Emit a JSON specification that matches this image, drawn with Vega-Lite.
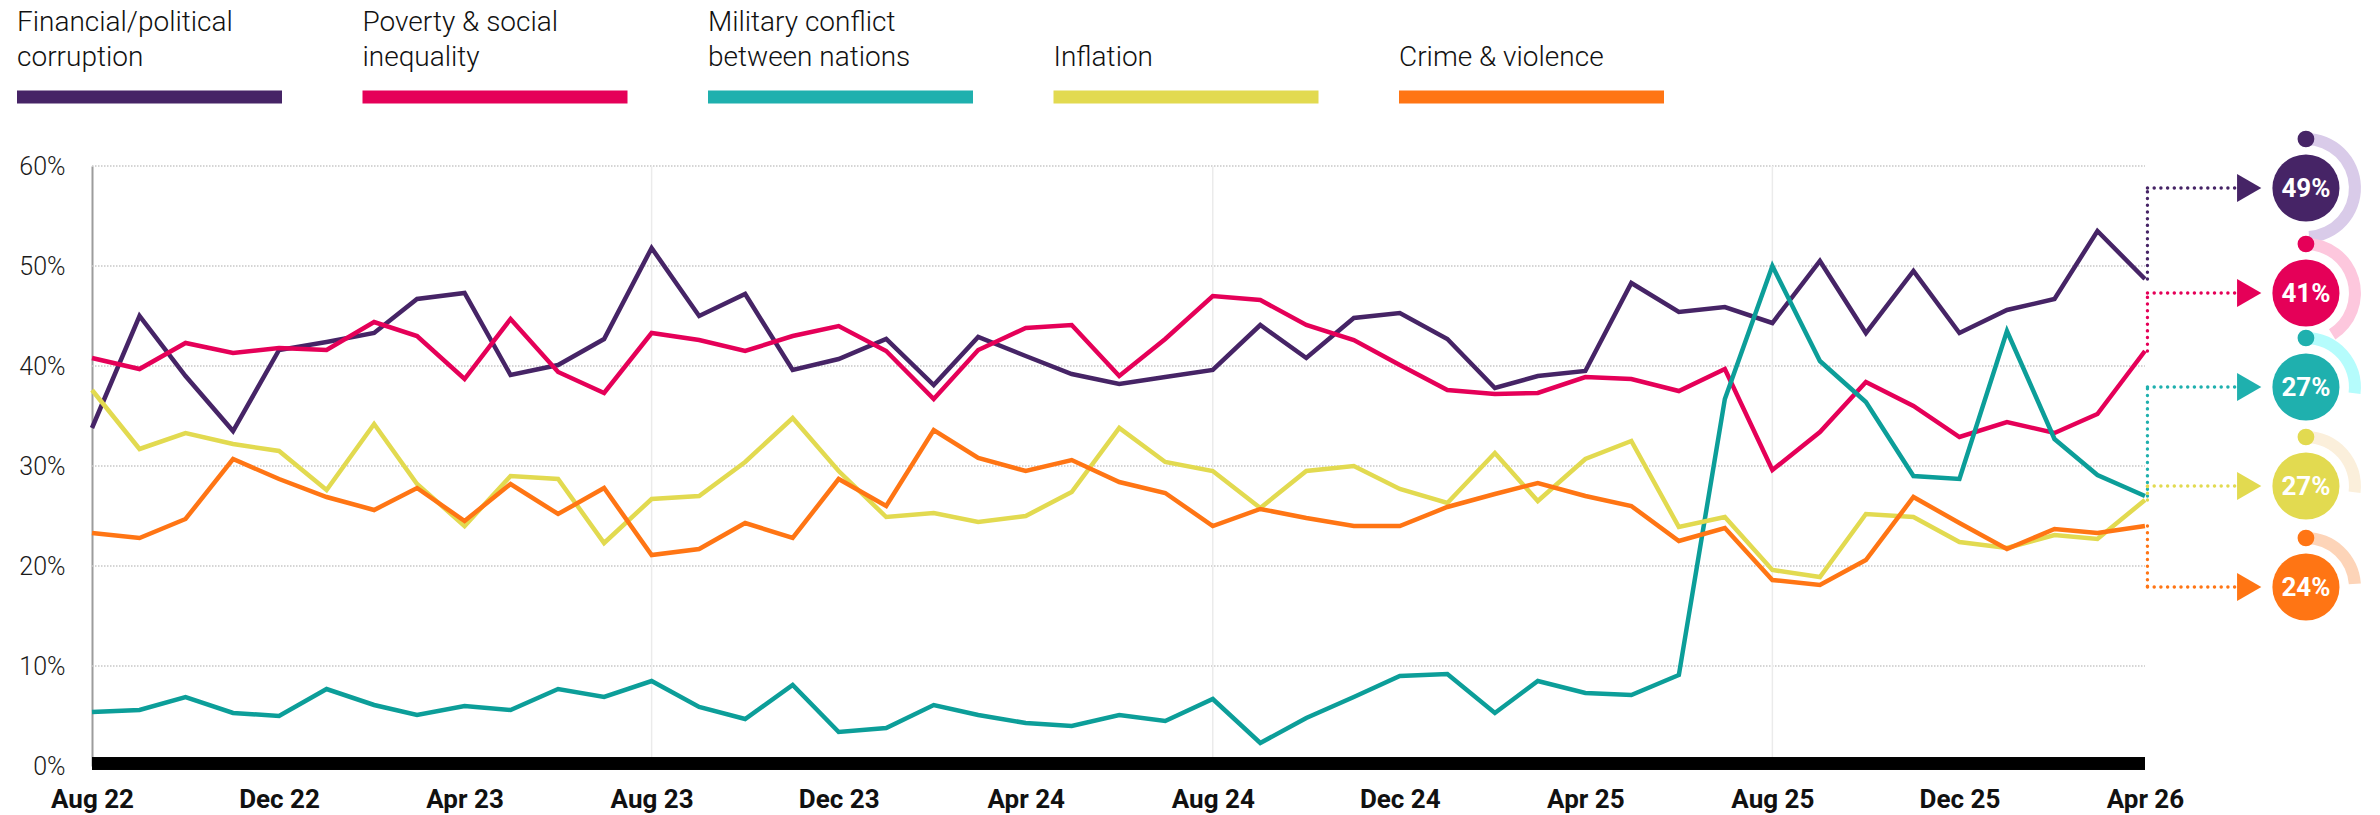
{
  "$schema": "https://vega.github.io/schema/vega-lite/v6.json",
  "width": 2286,
  "height": 600,
  "autosize": {"type": "none"},
  "padding": {"left": 92, "top": 166, "right": 2, "bottom": 49},
  "background": "white",
  "config": {"view": {"stroke": null}, "font": "Roboto"},
  "datasets": {
    "series": [
      {"month": "2022/08/01", "Financial/political corruption": 33.8, "Poverty & social inequality": 40.8, "Military conflict between nations": 5.4, "Inflation": 37.6, "Crime & violence": 23.3},
      {"month": "2022/09/01", "Financial/political corruption": 45.0, "Poverty & social inequality": 39.7, "Military conflict between nations": 5.6, "Inflation": 31.7, "Crime & violence": 22.8},
      {"month": "2022/10/01", "Financial/political corruption": 39.0, "Poverty & social inequality": 42.3, "Military conflict between nations": 6.9, "Inflation": 33.3, "Crime & violence": 24.7},
      {"month": "2022/11/01", "Financial/political corruption": 33.5, "Poverty & social inequality": 41.3, "Military conflict between nations": 5.3, "Inflation": 32.2, "Crime & violence": 30.7},
      {"month": "2022/12/01", "Financial/political corruption": 41.6, "Poverty & social inequality": 41.8, "Military conflict between nations": 5.0, "Inflation": 31.5, "Crime & violence": 28.7},
      {"month": "2023/01/01", "Financial/political corruption": 42.4, "Poverty & social inequality": 41.6, "Military conflict between nations": 7.7, "Inflation": 27.6, "Crime & violence": 26.9},
      {"month": "2023/02/01", "Financial/political corruption": 43.3, "Poverty & social inequality": 44.4, "Military conflict between nations": 6.1, "Inflation": 34.2, "Crime & violence": 25.6},
      {"month": "2023/03/01", "Financial/political corruption": 46.7, "Poverty & social inequality": 43.0, "Military conflict between nations": 5.1, "Inflation": 28.2, "Crime & violence": 27.8},
      {"month": "2023/04/01", "Financial/political corruption": 47.3, "Poverty & social inequality": 38.7, "Military conflict between nations": 6.0, "Inflation": 24.0, "Crime & violence": 24.5},
      {"month": "2023/05/01", "Financial/political corruption": 39.1, "Poverty & social inequality": 44.7, "Military conflict between nations": 5.6, "Inflation": 29.0, "Crime & violence": 28.2},
      {"month": "2023/06/01", "Financial/political corruption": 40.1, "Poverty & social inequality": 39.4, "Military conflict between nations": 7.7, "Inflation": 28.7, "Crime & violence": 25.2},
      {"month": "2023/07/01", "Financial/political corruption": 42.7, "Poverty & social inequality": 37.3, "Military conflict between nations": 6.9, "Inflation": 22.3, "Crime & violence": 27.8},
      {"month": "2023/08/01", "Financial/political corruption": 51.8, "Poverty & social inequality": 43.3, "Military conflict between nations": 8.5, "Inflation": 26.7, "Crime & violence": 21.1},
      {"month": "2023/09/01", "Financial/political corruption": 45.0, "Poverty & social inequality": 42.6, "Military conflict between nations": 5.9, "Inflation": 27.0, "Crime & violence": 21.7},
      {"month": "2023/10/01", "Financial/political corruption": 47.2, "Poverty & social inequality": 41.5, "Military conflict between nations": 4.7, "Inflation": 30.4, "Crime & violence": 24.3},
      {"month": "2023/11/01", "Financial/political corruption": 39.6, "Poverty & social inequality": 43.0, "Military conflict between nations": 8.1, "Inflation": 34.8, "Crime & violence": 22.8},
      {"month": "2023/12/01", "Financial/political corruption": 40.7, "Poverty & social inequality": 44.0, "Military conflict between nations": 3.4, "Inflation": 29.5, "Crime & violence": 28.7},
      {"month": "2024/01/01", "Financial/political corruption": 42.7, "Poverty & social inequality": 41.5, "Military conflict between nations": 3.8, "Inflation": 24.9, "Crime & violence": 26.0},
      {"month": "2024/02/01", "Financial/political corruption": 38.1, "Poverty & social inequality": 36.7, "Military conflict between nations": 6.1, "Inflation": 25.3, "Crime & violence": 33.6},
      {"month": "2024/03/01", "Financial/political corruption": 42.9, "Poverty & social inequality": 41.6, "Military conflict between nations": 5.1, "Inflation": 24.4, "Crime & violence": 30.8},
      {"month": "2024/04/01", "Financial/political corruption": 41.0, "Poverty & social inequality": 43.8, "Military conflict between nations": 4.3, "Inflation": 25.0, "Crime & violence": 29.5},
      {"month": "2024/05/01", "Financial/political corruption": 39.2, "Poverty & social inequality": 44.1, "Military conflict between nations": 4.0, "Inflation": 27.4, "Crime & violence": 30.6},
      {"month": "2024/06/01", "Financial/political corruption": 38.2, "Poverty & social inequality": 39.0, "Military conflict between nations": 5.1, "Inflation": 33.8, "Crime & violence": 28.4},
      {"month": "2024/07/01", "Financial/political corruption": 38.9, "Poverty & social inequality": 42.7, "Military conflict between nations": 4.5, "Inflation": 30.4, "Crime & violence": 27.3},
      {"month": "2024/08/01", "Financial/political corruption": 39.6, "Poverty & social inequality": 47.0, "Military conflict between nations": 6.7, "Inflation": 29.5, "Crime & violence": 24.0},
      {"month": "2024/09/01", "Financial/political corruption": 44.1, "Poverty & social inequality": 46.6, "Military conflict between nations": 2.3, "Inflation": 25.8, "Crime & violence": 25.7},
      {"month": "2024/10/01", "Financial/political corruption": 40.8, "Poverty & social inequality": 44.1, "Military conflict between nations": 4.8, "Inflation": 29.5, "Crime & violence": 24.8},
      {"month": "2024/11/01", "Financial/political corruption": 44.8, "Poverty & social inequality": 42.6, "Military conflict between nations": 6.9, "Inflation": 30.0, "Crime & violence": 24.0},
      {"month": "2024/12/01", "Financial/political corruption": 45.3, "Poverty & social inequality": 40.1, "Military conflict between nations": 9.0, "Inflation": 27.7, "Crime & violence": 24.0},
      {"month": "2025/01/01", "Financial/political corruption": 42.7, "Poverty & social inequality": 37.6, "Military conflict between nations": 9.2, "Inflation": 26.3, "Crime & violence": 25.9},
      {"month": "2025/02/01", "Financial/political corruption": 37.8, "Poverty & social inequality": 37.2, "Military conflict between nations": 5.3, "Inflation": 31.3, "Crime & violence": 27.2},
      {"month": "2025/03/01", "Financial/political corruption": 39.0, "Poverty & social inequality": 37.3, "Military conflict between nations": 8.5, "Inflation": 26.5, "Crime & violence": 28.3},
      {"month": "2025/04/01", "Financial/political corruption": 39.5, "Poverty & social inequality": 38.9, "Military conflict between nations": 7.3, "Inflation": 30.7, "Crime & violence": 27.0},
      {"month": "2025/05/01", "Financial/political corruption": 48.3, "Poverty & social inequality": 38.7, "Military conflict between nations": 7.1, "Inflation": 32.5, "Crime & violence": 26.0},
      {"month": "2025/06/01", "Financial/political corruption": 45.4, "Poverty & social inequality": 37.5, "Military conflict between nations": 9.1, "Inflation": 23.9, "Crime & violence": 22.5},
      {"month": "2025/07/01", "Financial/political corruption": 45.9, "Poverty & social inequality": 39.7, "Military conflict between nations": 36.7, "Inflation": 24.9, "Crime & violence": 23.8},
      {"month": "2025/08/01", "Financial/political corruption": 44.3, "Poverty & social inequality": 29.6, "Military conflict between nations": 50.0, "Inflation": 19.6, "Crime & violence": 18.6},
      {"month": "2025/09/01", "Financial/political corruption": 50.5, "Poverty & social inequality": 33.4, "Military conflict between nations": 40.5, "Inflation": 18.9, "Crime & violence": 18.1},
      {"month": "2025/10/01", "Financial/political corruption": 43.3, "Poverty & social inequality": 38.4, "Military conflict between nations": 36.4, "Inflation": 25.2, "Crime & violence": 20.6},
      {"month": "2025/11/01", "Financial/political corruption": 49.5, "Poverty & social inequality": 36.0, "Military conflict between nations": 29.0, "Inflation": 24.9, "Crime & violence": 26.9},
      {"month": "2025/12/01", "Financial/political corruption": 43.3, "Poverty & social inequality": 32.9, "Military conflict between nations": 28.7, "Inflation": 22.4, "Crime & violence": 24.3},
      {"month": "2026/01/01", "Financial/political corruption": 45.6, "Poverty & social inequality": 34.4, "Military conflict between nations": 43.5, "Inflation": 21.8, "Crime & violence": 21.7},
      {"month": "2026/02/01", "Financial/political corruption": 46.7, "Poverty & social inequality": 33.3, "Military conflict between nations": 32.7, "Inflation": 23.1, "Crime & violence": 23.7},
      {"month": "2026/03/01", "Financial/political corruption": 53.5, "Poverty & social inequality": 35.2, "Military conflict between nations": 29.1, "Inflation": 22.7, "Crime & violence": 23.3},
      {"month": "2026/04/01", "Financial/political corruption": 48.7, "Poverty & social inequality": 41.5, "Military conflict between nations": 27.0, "Inflation": 26.6, "Crime & violence": 24.0}
    ],
    "badges": [
      {"issue": "Financial/political corruption", "last": 48.7, "level": 57.8, "label": "49%", "share": 49},
      {"issue": "Poverty & social inequality", "last": 41.5, "level": 47.3, "label": "41%", "share": 41},
      {"issue": "Military conflict between nations", "last": 27.0, "level": 37.9, "label": "27%", "share": 27},
      {"issue": "Inflation", "last": 26.6, "level": 28.0, "label": "27%", "share": 27},
      {"issue": "Crime & violence", "last": 24.0, "level": 17.9, "label": "24%", "share": 24}
    ],
    "grid": [{"pct": 10}, {"pct": 20}, {"pct": 30}, {"pct": 40}, {"pct": 50}, {"pct": 60}],
    "vgrid": [{"tick": "2023/08/01"}, {"tick": "2024/08/01"}, {"tick": "2025/08/01"}]
  },
  "layer": [
    {
      "data": {"name": "grid"},
      "mark": {"type": "rule", "color": "#c8c8c8", "strokeWidth": 1.5, "strokeDash": [1.5, 1.5]},
      "encoding": {
        "x": {"datum": {"year": 2022, "month": 8, "date": 1}, "type": "temporal",
          "scale": {"domain": [{"year": 2022, "month": 8, "date": 1}, {"year": 2026, "month": 8, "date": 31}]},
          "axis": {
            "values": [
              {"year": 2022, "month": 8, "date": 1}, {"year": 2022, "month": 12, "date": 1},
              {"year": 2023, "month": 4, "date": 1}, {"year": 2023, "month": 8, "date": 1},
              {"year": 2023, "month": 12, "date": 1}, {"year": 2024, "month": 4, "date": 1},
              {"year": 2024, "month": 8, "date": 1}, {"year": 2024, "month": 12, "date": 1},
              {"year": 2025, "month": 4, "date": 1}, {"year": 2025, "month": 8, "date": 1},
              {"year": 2025, "month": 12, "date": 1}, {"year": 2026, "month": 4, "date": 1}
            ],
            "format": "%b %y", "title": null, "domain": false, "ticks": false, "grid": false,
            "labelFont": "Roboto", "labelFontWeight": "bold", "labelFontSize": 26, "labelColor": "#111111",
            "labelPadding": 20, "labelFlush": false, "labelOverlap": false
          }
        },
        "x2": {"datum": {"year": 2026, "month": 4, "date": 1}},
        "y": {"field": "pct", "type": "quantitative",
          "scale": {"domain": [0, 60], "nice": false},
          "axis": {
            "values": [0, 10, 20, 30, 40, 50, 60], "labelExpr": "datum.value + '%'",
            "title": null, "grid": false, "ticks": false, "domain": true,
            "domainColor": "#9c9c9c", "domainWidth": 2,
            "labelFont": "Roboto", "labelFontWeight": 300, "labelFontSize": 25, "labelColor": "#1a1a1a",
            "labelPadding": 27
          }
        }
      }
    },
    {
      "data": {"name": "vgrid"},
      "mark": {"type": "rule", "color": "#ebebeb", "strokeWidth": 1.5},
      "encoding": {
        "x": {"field": "tick", "type": "temporal"},
        "y": {"datum": 0, "type": "quantitative"},
        "y2": {"datum": 60}
      }
    },
    {
      "data": {"name": "grid"},
      "mark": {"type": "rule", "color": "#000000", "strokeWidth": 12, "yOffset": -2.5, "strokeCap": "butt"},
      "encoding": {
        "x": {"datum": {"year": 2022, "month": 8, "date": 1}, "type": "temporal"},
        "x2": {"datum": {"year": 2026, "month": 4, "date": 1}},
        "y": {"datum": 0, "type": "quantitative"}
      }
    },
    {
      "data": {"name": "badges"},
      "mark": {"type": "point", "shape": "circle", "filled": true, "size": 4500, "opacity": 1},
      "encoding": {
        "x": {"datum": {"year": 2026, "month": 7, "date": 15}, "type": "temporal"},
        "y": {"field": "level", "type": "quantitative"},
        "color": {
          "field": "issue", "type": "nominal",
          "scale": {
            "domain": ["Financial/political corruption", "Poverty & social inequality", "Military conflict between nations", "Inflation", "Crime & violence"],
            "range": ["#462466", "#e50058", "#1fb0ae", "#e2da50", "#ff7514"]
          },
          "legend": {
            "orient": "none", "legendX": -75, "legendY": -267.5, "direction": "horizontal", "columns": 5,
            "columnPadding": 80.5, "padding": 0, "title": null,
            "symbolType": "M-1,0.449H1V0.547H-1Z", "symbolSize": 70225, "symbolStrokeWidth": 0, "symbolOpacity": 1,
            "labelOffset": -265, "labelFont": "Roboto", "labelFontWeight": 300, "labelFontSize": 28,
            "labelColor": "#111111", "labelBaseline": "alphabetic", "labelLimit": 400,
            "labelExpr": "datum.label == 'Financial/political corruption' ? ['Financial/political', 'corruption'] : datum.label == 'Poverty & social inequality' ? ['Poverty & social', 'inequality'] : datum.label == 'Military conflict between nations' ? ['Military conflict', 'between nations'] : ['', datum.label]",
            "encoding": {"labels": {"lineHeight": {"value": 35}}}
          }
        }
      }
    },
    {
      "data": {"name": "series"},
      "transform": [
        {"fold": ["Financial/political corruption", "Poverty & social inequality", "Military conflict between nations", "Inflation", "Crime & violence"], "as": ["issue", "value"]}
      ],
      "mark": {"type": "line", "strokeWidth": 4.5, "strokeJoin": "miter", "strokeCap": "butt"},
      "encoding": {
        "x": {"field": "month", "type": "temporal"},
        "y": {"field": "value", "type": "quantitative"},
        "stroke": {
          "field": "issue", "type": "nominal", "legend": null,
          "scale": {
            "domain": ["Crime & violence", "Inflation", "Military conflict between nations", "Poverty & social inequality", "Financial/political corruption"],
            "range": ["#ff7514", "#e2da50", "#0c9e99", "#e50058", "#462466"]
          }
        }
      }
    },
    {
      "data": {"name": "badges"},
      "mark": {"type": "rule", "strokeWidth": 3.4, "strokeDash": [0.1, 6.6], "strokeCap": "round", "xOffset": 2.5},
      "encoding": {
        "x": {"datum": {"year": 2026, "month": 4, "date": 1}, "type": "temporal"},
        "y": {"field": "last", "type": "quantitative"},
        "y2": {"field": "level"},
        "color": {"field": "issue", "type": "nominal", "legend": null}
      }
    },
    {
      "data": {"name": "badges"},
      "mark": {"type": "rule", "strokeWidth": 3.4, "strokeDash": [0.1, 6.6], "strokeCap": "round", "xOffset": 2.5},
      "encoding": {
        "x": {"datum": {"year": 2026, "month": 4, "date": 1}, "type": "temporal"},
        "x2": {"datum": {"year": 2026, "month": 5, "date": 31}},
        "y": {"field": "level", "type": "quantitative"},
        "color": {"field": "issue", "type": "nominal", "legend": null}
      }
    },
    {
      "data": {"name": "badges"},
      "mark": {"type": "point", "shape": "triangle-right", "filled": true, "size": 784, "opacity": 1},
      "encoding": {
        "x": {"datum": {"year": 2026, "month": 6, "date": 8}, "type": "temporal"},
        "y": {"field": "level", "type": "quantitative"},
        "color": {"field": "issue", "type": "nominal", "legend": null}
      }
    },
    {
      "data": {"name": "badges"},
      "mark": {"type": "arc", "radius": 55, "radius2": 43},
      "encoding": {
        "x": {"datum": {"year": 2026, "month": 7, "date": 15}, "type": "temporal"},
        "y": {"field": "level", "type": "quantitative", "stack": null},
        "theta": {"field": "share", "type": "quantitative", "stack": null, "scale": {"domain": [0, 100], "range": [0, 6.2832]}},
        "fill": {
          "field": "issue", "type": "nominal", "legend": null,
          "scale": {
            "domain": ["Crime & violence", "Inflation", "Military conflict between nations", "Poverty & social inequality", "Financial/political corruption"],
            "range": ["#fdd4b8", "#fbefdb", "#b5fcfc", "#fdc7dd", "#d9cbe9"]
          }
        }
      }
    },
    {
      "data": {"name": "badges"},
      "mark": {"type": "point", "shape": "circle", "filled": true, "size": 280, "opacity": 1, "yOffset": -49},
      "encoding": {
        "x": {"datum": {"year": 2026, "month": 7, "date": 15}, "type": "temporal"},
        "y": {"field": "level", "type": "quantitative"},
        "color": {"field": "issue", "type": "nominal", "legend": null}
      }
    },
    {
      "data": {"name": "badges"},
      "mark": {"type": "text", "color": "white", "font": "Roboto", "fontWeight": "bold", "fontSize": 26, "align": "center", "baseline": "middle", "dy": 1},
      "encoding": {
        "x": {"datum": {"year": 2026, "month": 7, "date": 15}, "type": "temporal"},
        "y": {"field": "level", "type": "quantitative"},
        "text": {"field": "label"}
      }
    }
  ]
}
